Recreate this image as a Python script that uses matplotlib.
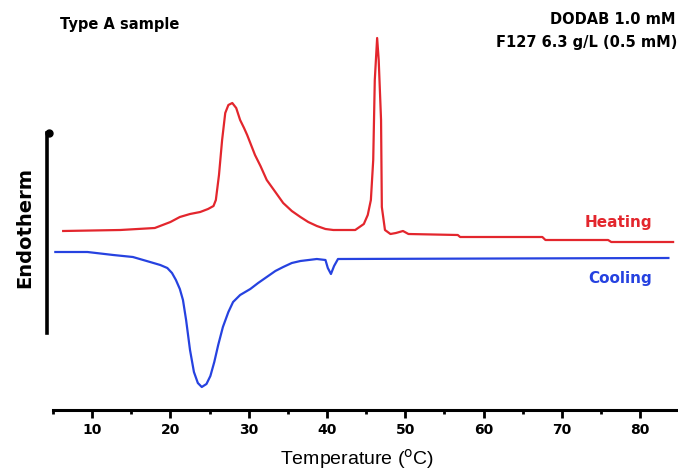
import numpy as np
import matplotlib
matplotlib.use("Agg")
import matplotlib.pyplot as plt
from matplotlib.ticker import MultipleLocator
from matplotlib.transforms import offset_copy

# DSC thermogram, Type A sample (DODAB 1.0 mM + F127 6.3 g/L)
# heat flow in arbitrary units

heat_T = [6.3, 13.6, 18.0, 20.0, 21.2, 22.5, 23.8, 24.8, 25.5, 25.8, 26.2,
          26.6, 27.0, 27.4, 27.9, 28.4, 28.9, 29.4, 29.8, 30.3, 30.8, 31.5,
          32.3, 33.4, 34.4, 35.5, 36.6, 37.6, 38.7, 39.8, 40.8, 43.6, 44.7,
          45.2, 45.6, 45.9, 46.1, 46.4, 46.6, 46.9, 47.0, 47.4, 48.1, 48.8,
          49.7, 50.4, 56.7, 57.0, 67.5, 67.9, 75.9, 76.3, 84.2]
heat_q = [17.9, 18.0, 18.2, 18.8, 19.3, 19.6, 19.8, 20.1, 20.4, 21.0, 23.5,
          27.0, 29.7, 30.5, 30.7, 30.2, 29.0, 28.2, 27.5, 26.5, 25.5, 24.4,
          23.0, 21.8, 20.7, 19.9, 19.3, 18.8, 18.4, 18.1, 18.0, 18.0, 18.6,
          19.5, 21.0, 25.0, 33.0, 37.2, 35.0, 29.0, 20.3, 18.0, 17.6, 17.7,
          17.9, 17.6, 17.5, 17.3, 17.3, 17.0, 17.0, 16.8, 16.8]

cool_T = [5.3, 9.4, 12.7, 15.2, 17.4, 18.7, 19.6, 20.2, 20.7, 21.2, 21.6,
          22.0, 22.5, 23.0, 23.5, 24.0, 24.6, 25.1, 25.6, 26.1, 26.7, 27.4,
          28.0, 28.9, 30.2, 31.2, 32.3, 33.4, 34.4, 35.5, 36.6, 38.7, 39.8,
          40.1, 40.5, 40.9, 41.4, 83.6]
cool_q = [15.8, 15.8, 15.5, 15.3, 14.8, 14.5, 14.2, 13.7, 13.0, 12.1, 11.0,
          9.0, 6.0, 3.8, 2.7, 2.3, 2.6, 3.4, 4.8, 6.5, 8.3, 9.8,
          10.8, 11.5, 12.1, 12.7, 13.3, 13.9, 14.3, 14.7, 14.9, 15.1, 15.0,
          14.2, 13.6, 14.4, 15.1, 15.2]

xticks = [10, 20, 30, 40, 50, 60, 70, 80]

W, H = 678, 472
fig = plt.figure(figsize=(W / 100, H / 100), dpi=100)
ax = fig.add_axes([53 / W, 1 - 410 / H, 624 / W, 410 / H])

red = "#e3262d"
blue = "#2642e0"
ax.plot(heat_T, heat_q, color=red, lw=1.6)
ax.plot(cool_T, cool_q, color=blue, lw=1.6)

ax.set_xlim(5, 84.7)
ax.set_ylim(0, 41)

for s in ["top", "right"]:
    ax.spines[s].set_visible(False)
ax.spines["bottom"].set_linewidth(2.2)
ax.spines["left"].set_linewidth(2.6)
ax.spines["left"].set_position(("outward", 4))
y_lo, y_hi = 7.7, 27.7
ax.spines["left"].set_bounds(y_lo, y_hi)
ax.set_yticks([])

# dot at the top of the endotherm arrow
ax.plot([0], [y_hi], "o", color="black", ms=5, clip_on=False, zorder=5,
        transform=offset_copy(ax.get_yaxis_transform(), fig=fig, x=-4, units="dots"))

ax.set_xticks(xticks)
ax.xaxis.set_minor_locator(MultipleLocator(5))
ax.tick_params(axis="x", which="major", length=6, width=2, direction="out", pad=3)
ax.tick_params(axis="x", which="minor", length=3, width=2, direction="out")
for lab in ax.get_xticklabels():
    lab.set_fontweight("bold")
    lab.set_fontsize(10)

fig.text(357 / W, 1 - 459 / H, "Temperature ($^{\\mathrm{o}}$C)", ha="center", va="center",
         fontsize=14, family="Liberation Sans")
fig.text(25 / W, 1 - 227 / H, "Endotherm", rotation=90, ha="center", va="center",
         fontsize=14, fontweight="bold", family="Liberation Sans Narrow")

fig.text(60 / W, 1 - 25 / H, "Type A sample", ha="left", va="center",
         fontsize=10.5, fontweight="bold")
fig.text(675 / W, 1 - 20 / H, "DODAB 1.0 mM", ha="right", va="center",
         fontsize=10.5, fontweight="bold")
fig.text(677 / W, 1 - 43 / H, "F127 6.3 g/L (0.5 mM)", ha="right", va="center",
         fontsize=10.5, fontweight="bold")
fig.text(652 / W, 1 - 223 / H, "Heating", ha="right", va="center",
         fontsize=11, fontweight="bold", color=red)
fig.text(652 / W, 1 - 278 / H, "Cooling", ha="right", va="center",
         fontsize=11, fontweight="bold", color=blue)

fig.savefig("out.png", dpi=100)
